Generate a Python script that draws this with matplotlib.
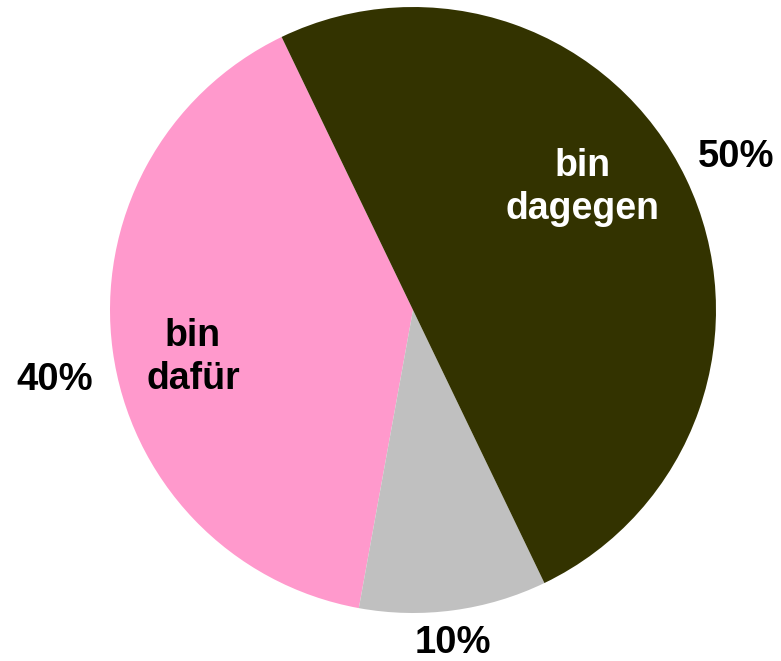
import numpy as np
import matplotlib
matplotlib.use('Agg')
import matplotlib.pyplot as plt

labels = ['bin dafür', '', 'bin dagegen']
values = [40, 10, 50]
pct_labels = ['40%', '10%', '50%']
colors = ['#FF99CC', '#C0C0C0', '#333300']
label_colors = ['black', 'black', 'white']

plt.rcParams['font.family'] = ['Liberation Sans', 'DejaVu Sans']

fig = plt.figure(figsize=(7.81, 6.61), dpi=100)
ax = fig.add_axes([0, 0, 1, 1])

wedges, _ = ax.pie(values, colors=colors, startangle=115.7, counterclock=True,
                   radius=1, center=(0, 0), wedgeprops=dict(linewidth=0))

# where the texts sit: (angle shift from slice middle, radius) per slice
inner_pos = [(4.6, 0.743), (0, 0.6), (10, 0.69)]
outer_pos = [(3.3, 1.205), (-0.8, 1.108), (-0.4, 1.18)]

for w, lab, pct, lc, ip, op in zip(wedges, labels, pct_labels, label_colors, inner_pos, outer_pos):
    mid = np.deg2rad((w.theta1 + w.theta2) / 2)
    if lab:
        a = mid + np.deg2rad(ip[0])
        ax.text(ip[1] * np.cos(a), ip[1] * np.sin(a), lab.replace(' ', '\n'),
                ha='center', va='center', fontsize=27, fontweight='bold',
                color=lc, linespacing=1.25)
    a = mid + np.deg2rad(op[0])
    ax.text(op[1] * np.cos(a), op[1] * np.sin(a), pct,
            ha='center', va='center', fontsize=27.5, fontweight='bold', color='black')

ax.set_xlim(-413 / 303, (781 - 413) / 303)
ax.set_ylim(-(661 - 310) / 303, 310 / 303)
ax.set_aspect('auto')
ax.axis('off')

fig.savefig('out.png', dpi=100)
